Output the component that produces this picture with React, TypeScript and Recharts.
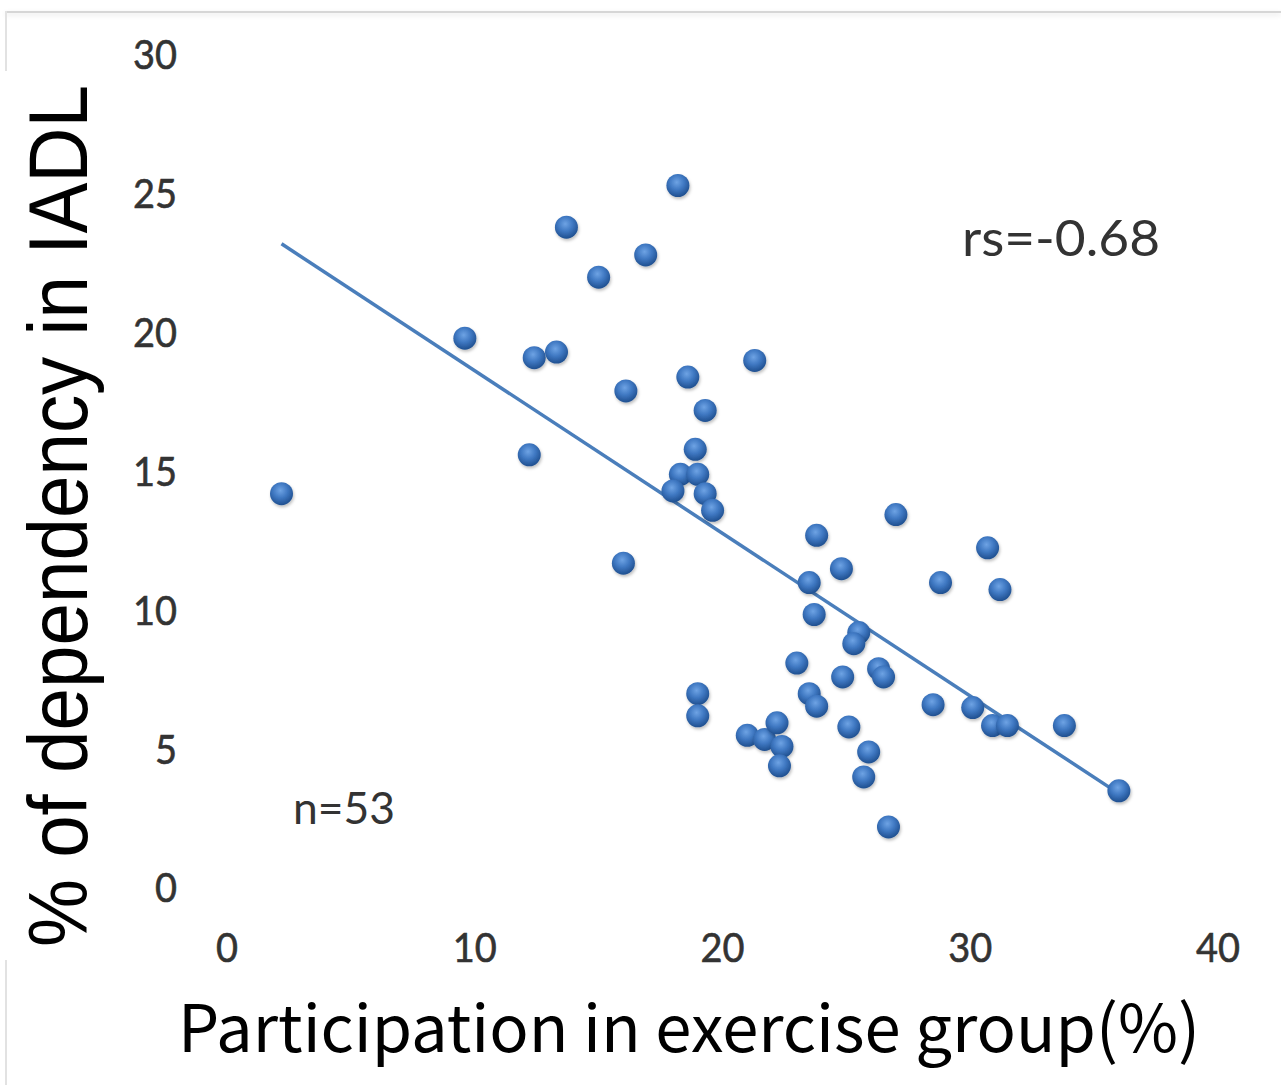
import { ScatterChart, Scatter, XAxis, YAxis } from "recharts"

// participation in exercise group (%) per municipality
const participation = [
  2.2, 9.6, 12.4, 13.3, 12.2, 13.7, 15.0, 16.9, 18.2, 16.1,
  16.0, 18.6, 19.3, 21.3, 18.9, 18.3, 18.0, 19.0, 19.3, 19.6,
  19.0, 19.0, 21.0, 21.7, 22.2, 22.4, 22.3, 23.8, 24.8, 23.5,
  23.7, 23.0, 23.5, 23.8, 24.85, 25.5, 25.3, 26.3, 26.5, 25.1,
  25.9, 25.7, 26.7, 27.0, 28.5, 30.7, 28.8, 31.2, 30.1, 30.9,
  31.5, 33.8, 36.0,
]

// % of dependency in IADL, same order
const dependency = [
  14.2, 19.8, 19.1, 19.3, 15.6, 23.8, 22.0, 22.8, 25.3, 17.9,
  11.7, 18.4, 17.2, 19.0, 15.8, 14.9, 14.3, 14.9, 14.2, 13.6,
  7.0, 6.2, 5.5, 5.35, 5.95, 5.1, 4.4, 12.7, 11.5, 11.0,
  9.85, 8.1, 7.0, 6.55, 7.6, 9.2, 8.8, 7.9, 7.6, 5.8,
  4.9, 4.0, 2.2, 13.45, 6.6, 12.25, 11.0, 10.75, 6.5, 5.85,
  5.85, 5.85, 3.5,
]

// linear trend line end points
const trendX = [2.2, 36.0]
const trendY = [23.2, 3.4]

const xTicks = [0, 10, 20, 30, 40]
const yTicks = [0, 5, 10, 15, 20, 25, 30]

const tickFont = "Lato, 'Open Sans', sans-serif"
const labelFont = "'Noto Sans CJK JP', 'Noto Sans', sans-serif"

function XTick({ x, payload }: any) {
  const s = String(payload.value)
  return (
    <text
      x={x}
      y={948}
      dy="0.36em"
      textAnchor="middle"
      fontFamily={tickFont}
      fontSize={40}
      textLength={s.length * 22}
      lengthAdjust="spacingAndGlyphs"
      fill="#333"
      stroke="#333"
      strokeWidth={0.6}
    >
      {s}
    </text>
  )
}

function YTick({ y, payload }: any) {
  const s = String(payload.value)
  return (
    <text
      x={177}
      y={y}
      dy="0.36em"
      textAnchor="end"
      fontFamily={tickFont}
      fontSize={40}
      textLength={s.length * 22}
      lengthAdjust="spacingAndGlyphs"
      fill="#333"
      stroke="#333"
      strokeWidth={0.6}
    >
      {s}
    </text>
  )
}

function Ball({ cx, cy }: any) {
  if (cx == null || cy == null) return <g />
  return <circle cx={cx} cy={cy} r={11.5} fill="url(#ball)" filter="url(#ballShadow)" />
}

export default function App() {
  const points = participation.map((x, i) => ({ x, y: dependency[i] }))
  const trend = trendX.map((x, i) => ({ x, y: trendY[i] }))

  return (
    <div style={{ position: "absolute", left: 0, top: 0, width: 1281, height: 1085, background: "#fff", overflow: "hidden" }}>
      {/* frame edges */}
      <div style={{ position: "absolute", left: 5, top: 11, right: 0, height: 2, background: "#d6d6d6", boxShadow: "0 2px 5px rgba(0,0,0,0.12)" }} />
      <div style={{ position: "absolute", left: 5, top: 11, width: 2, height: 60, background: "#e2e2e2" }} />
      <div style={{ position: "absolute", left: 5, top: 960, width: 2, height: 125, background: "#e2e2e2" }} />

      <div style={{ position: "absolute", left: 0, top: 0 }}>
        <ScatterChart width={1281} height={1085} margin={{ top: 55, right: 63, bottom: 0, left: 0 }}>
          <defs>
            <radialGradient id="ball" cx="45%" cy="36%" r="64%">
              <stop offset="0%" stopColor="#6ea3e4" />
              <stop offset="50%" stopColor="#3f78c2" />
              <stop offset="100%" stopColor="#1f4f8f" />
            </radialGradient>
            <filter id="ballShadow" x="-50%" y="-50%" width="200%" height="200%">
              <feDropShadow dx="1" dy="2" stdDeviation="1.5" floodColor="#000" floodOpacity="0.25" />
            </filter>
          </defs>
          <XAxis
            type="number"
            dataKey="x"
            domain={[0, 40]}
            ticks={xTicks}
            axisLine={false}
            tickLine={false}
            height={197}
            tick={<XTick />}
          />
          <YAxis
            type="number"
            dataKey="y"
            domain={[0, 30]}
            ticks={yTicks}
            axisLine={false}
            tickLine={false}
            width={227}
            tick={<YTick />}
          />
          <Scatter
            data={trend}
            line={{ stroke: "#4a7ebb", strokeWidth: 3.5 }}
            shape={() => <g />}
            legendType="none"
            isAnimationActive={false}
          />
          <Scatter data={points} shape={Ball} isAnimationActive={false} />
        </ScatterChart>
      </div>

      {/* axis titles and text boxes */}
      <svg width={1281} height={1085} style={{ position: "absolute", left: 0, top: 0, pointerEvents: "none" }}>
        <text
          transform="translate(87, 516) rotate(-90)"
          textAnchor="middle"
          fontFamily="'Liberation Sans', Arial, sans-serif"
          fontSize={84}
          textLength={862}
          lengthAdjust="spacingAndGlyphs"
          fill="#000"
        >
          % of dependency in IADL
        </text>
        <text
          x={689}
          y={1052}
          textAnchor="middle"
          fontFamily={labelFont}
          fontSize={65}
          textLength={1022}
          lengthAdjust="spacingAndGlyphs"
          fill="#000"
        >
          Participation in exercise group(%)
        </text>
        <text x={962} y={256} fontFamily={tickFont} fontSize={50} textLength={198} lengthAdjust="spacingAndGlyphs" fill="#333">
          rs=-0.68
        </text>
        <text x={293} y={824} fontFamily={tickFont} fontSize={44} textLength={102} lengthAdjust="spacingAndGlyphs" fill="#333">
          n=53
        </text>
      </svg>
    </div>
  )
}
